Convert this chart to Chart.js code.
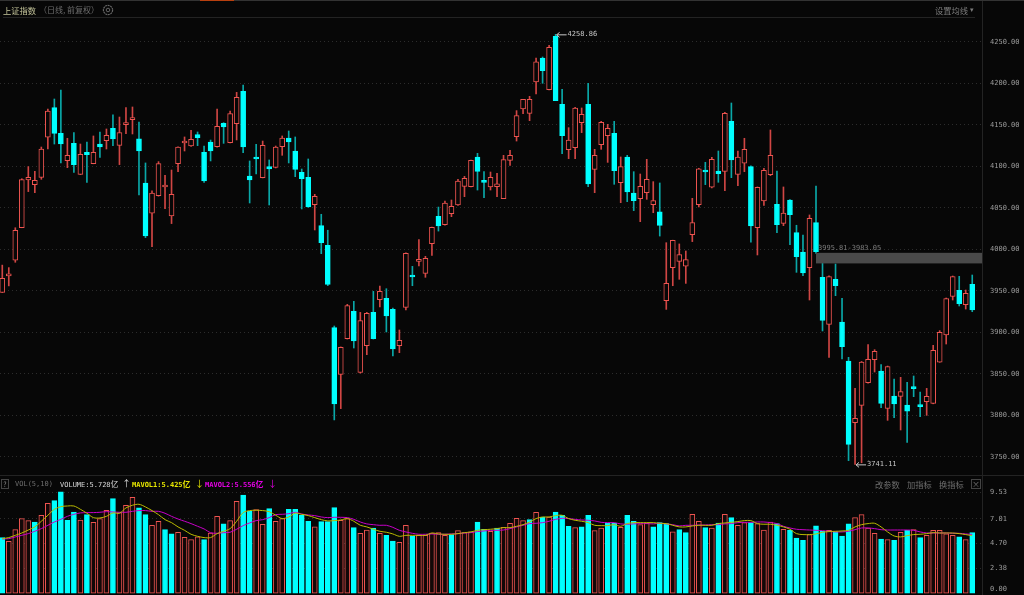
<!DOCTYPE html>
<html>
<head>
<meta charset="utf-8">
<title>上证指数</title>
<script src="https://cdn.jsdelivr.net/npm/chart.js@4"></script>
<style>
    html, body { margin: 0; padding: 0; background: #070707; overflow: hidden; }
    #page { position: relative; width: 1024px; height: 595px; overflow: hidden; background: #070707; }
    canvas { position: absolute; left: 0; }
    #priceChart { top: 0; }
    #volumeChart { top: 476px; }
    .txt { position: absolute; white-space: nowrap; line-height: 12px; font-family: "Noto Sans CJK SC", sans-serif; }
    .mono { font-family: "DejaVu Sans Mono", monospace; font-size: 7px; }
    .rule { position: absolute; background: #232323; }
</style>
</head>
<body>
<div id="page">
    <canvas id="priceChart" width="1024" height="475"></canvas>
    <canvas id="volumeChart" width="1024" height="119"></canvas>

    <div class="rule" style="left:0;top:0;width:1024px;height:1px;background:#333"></div>
    <div class="rule" style="left:200px;top:0;width:34px;height:1px;background:#b8400f"></div>
    <div class="rule" style="left:3px;top:17px;width:972px;height:1px"></div>
    <div class="rule" style="left:0;top:475px;width:1024px;height:1px"></div>

    <div class="txt" style="left:3px;top:4px;font-size:8.25px;color:#c4c49a">上证指数</div>
    <div class="txt" style="left:39px;top:4px;font-size:8px;color:#6e6e6e">（日线, 前复权）</div>
    <svg style="position:absolute;left:102px;top:4px" width="12" height="12" viewBox="0 0 12 12">
        <circle cx="6" cy="6" r="4.6" fill="none" stroke="#666" stroke-width="1.2" stroke-dasharray="2 0.6"></circle>
        <circle cx="6" cy="6" r="1.8" fill="none" stroke="#666"></circle>
    </svg>
    <div class="txt" style="left:935px;top:4px;font-size:8.25px;color:#7c7c7c">设置均线</div>
    <div class="txt" style="left:970px;top:3px;font-size:7px;color:#7c7c7c">▾</div>

    <div class="txt" style="left:1px;top:479px;width:8px;height:10px;line-height:8px;border:1px solid #444;color:#888;font-size:7px;text-align:center;box-sizing:border-box">?</div>
    <div class="txt mono" style="left:15px;top:478px;color:#6e6e6e">VOL(5,10)</div>
    <div class="txt mono" style="left:60px;top:478px;color:#d8d8d8">VOLUME:5.728<span style="font-family:'Noto Sans CJK SC';font-size:8px">亿</span></div>
    <div class="txt" style="left:122px;top:478px;font-size:9px;color:#d8d8d8">↑</div>
    <div class="txt mono" style="left:132px;top:478px;color:#e6e600;font-weight:bold">MAVOL1:5.425<span style="font-family:'Noto Sans CJK SC';font-size:8px">亿</span></div>
    <div class="txt" style="left:195px;top:478px;font-size:9px;color:#e6e600">↓</div>
    <div class="txt mono" style="left:205px;top:478px;color:#e600e6;font-weight:bold">MAVOL2:5.556<span style="font-family:'Noto Sans CJK SC';font-size:8px">亿</span></div>
    <div class="txt" style="left:268px;top:478px;font-size:9px;color:#e600e6">↓</div>

    <div class="txt" style="left:875px;top:478px;font-size:8.25px;color:#6e6e6e">改参数</div>
    <div class="txt" style="left:907px;top:478px;font-size:8.25px;color:#6e6e6e">加指标</div>
    <div class="txt" style="left:939px;top:478px;font-size:8.25px;color:#6e6e6e">换指标</div>
    <div class="txt" style="left:971px;top:479px;width:10px;height:10px;line-height:8px;border:1px solid #444;color:#777;font-size:8px;text-align:center;box-sizing:border-box">×</div>
</div>

<script>
// Daily candles, oldest first
const opens = [
    3948,3968,3987,4026,4083.5,4077.9,4086.7,4134.9,4170.6,4139.7,
    4106.8,4127.6,4090.3,4116.8,4103.2,4126.8,4130.9,4145.7,4125.2,4150.1,
    4156.1,4132.9,4079.9,4043.4,4064.6,4075,4040.2,4103.2,4128,4124.4,
    4138.1,4116.8,4129.2,4123.6,4151.7,4128.4,4151.3,4190.2,4088.3,4110.8,
    4086.3,4099.5,4098.7,4123.6,4134.1,4118.4,4092.7,4086.7,4053.8,4028.5,
    4004.8,3905.7,3849.5,3892.4,3925.3,3851.9,3884,3924.1,3939.4,3941,
    3927.8,3884,3930.2,3967.9,3985.5,3971.1,4006.8,4039.7,4029.7,4042.9,
    4053.4,4075.9,4075.4,4111.2,4081.9,4075,4075.4,4061,4107.2,4135.6,
    4169,4163.7,4201.5,4230.4,4192.2,4256.4,4174.6,4120,4122.4,4152.5,
    4174.6,4096.3,4126,4136.8,4139.7,4080.3,4111.2,4067.8,4061,4068.2,
    4053.8,4045.3,3938.2,3978,3985.6,3979.6,4017.7,4053.8,4094.7,4074.7,
    4094.3,4093.9,4154.1,4090.3,4103.6,4099.6,4026.1,4058.2,4089.9,4054.2,
    4031.3,4059.4,4020.1,3996.8,3978,4032.1,3966.3,3909.7,3963.9,3912.5,
    3865.5,3791.3,3812.2,3839.5,3867.1,3853.5,3808.6,3823.4,3823,3812.6,
    3833.8,3812.2,3816.6,3814.6,3864,3896.9,3943.4,3950.6,3933.4,3957.8
];
const closes = [
    3965,3969,4023,4084,4086.7,4083.1,4120.8,4166.6,4139.7,4126.8,
    4113.2,4102,4114.4,4114,4116.8,4123.2,4137.3,4132.9,4140.5,4151.7,
    4158.5,4118.4,4016.1,4067.8,4103.2,4075.9,4066.2,4123.2,4129,4132.5,
    4134.5,4082.3,4118.4,4148.1,4147.3,4163.4,4183,4123.2,4083.5,4108.8,
    4125.2,4096.7,4123.2,4134.1,4129.2,4096.3,4085.1,4051,4063.8,4008,
    3957.9,3813.8,3882,3932.2,3889.6,3914.1,3922.9,3892.4,3949.4,3919.7,
    3880,3890.4,3995.2,3966.7,3986.7,3989.2,4026.5,4028.1,4055.8,4051.8,
    4082.3,4085.5,4107.2,4093.9,4080.7,4086.7,4079,4108,4113.2,4160.9,
    4180.6,4180.6,4225.9,4215.1,4243.2,4179,4136.8,4131.6,4170.2,4162.5,
    4078.7,4113.2,4152.9,4145.7,4094.7,4099.5,4069,4058.6,4075.9,4084.3,
    4058.6,4028.9,3959,4010.9,3993.6,3987.6,4032.1,4096.8,4093.1,4108.4,
    4091.1,4163.8,4107.6,4111.2,4120.4,4028.1,4074.7,4095.1,4113.2,4029.7,
    4043.8,4041.8,3991.2,3971.5,4037.4,3997.2,3914.5,3967.1,3956.2,3882.8,
    3765.2,3796.5,3864.3,3867.5,3877.2,3814.6,3858.7,3813.8,3828.6,3805.3,
    3832.2,3810.6,3823,3878.4,3900.1,3940.6,3967.1,3934.6,3947,3927
];
const highs = [
    3981,3978,4026,4085,4099.6,4093.9,4123.2,4169,4181,4191.8,
    4133.7,4140.5,4126.8,4129.2,4136.5,4141.3,4144.9,4161.8,4159.3,4170.6,
    4171.4,4153.3,4104,4070.3,4105.6,4089.1,4095.5,4123.5,4135.3,4143.3,
    4141.3,4124.4,4131.6,4169,4152.5,4166.6,4189,4197.9,4106.4,4126.4,
    4130.4,4107.6,4124.4,4136.5,4142.5,4135.3,4096.7,4108.8,4066.2,4042.2,
    4023,3907.7,3882.5,3933.8,3937.4,3924.1,3924.1,3949.4,3955.8,3952.6,
    3929.4,3902.9,3995.8,3979.5,4011.6,3991.6,4026.8,4050.9,4058.2,4059.4,
    4084.3,4087.9,4107.5,4115.6,4093.5,4093.1,4091.5,4113.2,4119.2,4167,
    4180.6,4184.2,4230.4,4231.6,4245.6,4258.86,4192.6,4146.5,4171,4170.2,
    4199.9,4120.4,4154.1,4150.5,4154.1,4111.2,4113.2,4093.5,4090.7,4108.4,
    4081.5,4079.9,4008,4011,4006.5,3998,4061.4,4097.6,4104.8,4110.8,
    4118.4,4165,4176.2,4118.4,4133.7,4100.4,4075.1,4097.6,4143.7,4094.3,
    4075.1,4060,4029,4017.3,4041.4,4076.3,3984,3968,3982.4,3941,
    3870,3832.6,3865,3885.2,3879.2,3861.1,3859.5,3843.9,3845.9,3839.9,
    3847.5,3828.2,3832.6,3884.4,3902.1,3941.4,3967.9,3967.5,3951,3969.1
];
const lows = [
    3948,3956,3984.4,4026,4069.5,4068.2,4084.3,4120.8,4126.8,4104,
    4098.3,4092.7,4090,4080.7,4103,4110.8,4120.8,4124.8,4102,4139.3,
    4138.9,4065.4,4014.1,4003.2,4064,4049,4031,4093.5,4118.4,4124,
    4124.8,4080.7,4106.4,4123,4127.6,4128,4131.7,4116.4,4055.8,4090.7,
    4086,4053.4,4098,4113.2,4104,4087.5,4048.6,4050.6,4023.3,3994.8,
    3956.3,3794.6,3808.2,3892,3881.2,3851,3873.2,3892,3930.6,3900.5,
    3871.6,3875.6,3927,3956.2,3979.9,3966.3,3992.8,4022,4029,4039.3,
    4053,4063.4,4075,4071.4,4062.2,4071.4,4063.4,4061,4101,4130.4,
    4163.3,4154.9,4187,4199.9,4192,4179,4115.2,4109.2,4109.2,4140.5,
    4075.4,4068.2,4120.4,4104.7,4078.3,4056.2,4057.4,4046.6,4033.3,4060.2,
    4044.1,4016,3927.7,3956.2,3963.9,3959,4009.3,4051,4077.9,4074,
    4080.7,4070.7,4086.3,4076.7,4093.5,4008.5,3993.2,4053,4088.7,4020.1,
    4028.5,4005.7,3972.3,3968.3,3939,3995,3901.7,3870,3944.2,3868,
    3745.6,3741.11,3743,3839,3852.3,3809.4,3794.1,3797.3,3782.5,3767.6,
    3822.6,3798.5,3800.1,3814,3864,3886,3939,3931.8,3928.1,3924.9
];

// Volume in 亿, same order as the candles
const volumes = [
    5.26,4.91,6.0,7.04,6.85,6.72,7.35,8.47,8.72,9.54,
    6.88,7.66,6.91,7.41,6.69,7.04,7.82,8.91,7.6,8.29,
    9.04,8.04,7.41,6.41,6.79,6.0,5.6,5.76,5.29,5.07,
    5.32,5.07,5.69,7.25,6.54,6.85,8.66,9.25,7.72,7.88,
    6.51,7.97,6.79,7.04,7.91,7.91,7.35,6.79,6.26,6.76,
    6.76,8.07,6.88,7.04,6.19,5.66,5.97,6.16,5.66,5.47,
    4.94,4.82,6.41,5.41,5.47,5.47,5.69,5.72,5.47,5.54,
    5.91,5.72,5.79,6.72,6.04,5.85,6.16,6.22,6.6,7.07,
    6.85,6.94,7.63,7.19,7.19,7.66,7.35,6.32,6.19,6.26,
    7.35,5.91,6.16,6.6,6.63,6.22,7.35,6.79,6.47,6.6,
    6.26,6.66,6.57,5.79,6.0,5.72,7.44,6.79,6.19,6.16,
    6.63,7.44,7.13,6.41,6.66,6.66,6.57,5.97,6.72,6.57,
    6.04,5.94,5.22,5.0,5.54,6.35,5.88,5.94,5.79,5.41,
    6.54,7.13,7.41,6.16,5.66,5.13,5.07,5.0,5.76,5.94,
    6.0,5.26,5.47,5.94,5.94,5.6,5.47,5.32,5.07,5.73
];
// Bars that are cyan in the volume pane (does not always follow the candle colour)
const cyanVolumeBars = [
    0,5,8,9,10,11,13,17,21,22,25,26,31,34,37,38,41,44,45,46,47,49,50,51,54,57,59,60,63,69,
    73,74,76,81,83,85,86,87,89,90,93,94,96,97,100,101,102,104,105,108,110,112,115,119,121,
    122,123,125,126,128,129,130,135,137,139,141,147,149
];
const mavol1 = [
    5.16,5.26,5.47,5.69,5.97,6.26,6.79,7.35,7.91,8.16,
    8.22,8.22,7.91,7.54,7.13,7.1,7.25,7.57,7.54,8.04,
    8.29,8.38,8.13,7.79,7.41,6.94,6.66,6.26,5.94,5.57,
    5.38,5.26,5.26,5.63,5.85,6.1,6.79,7.6,7.79,7.82,
    7.79,7.69,7.35,7.04,7.19,7.54,7.44,7.32,7.13,6.94,
    6.82,6.85,6.91,7.04,6.79,6.41,6.26,6.04,5.85,5.76,
    5.6,5.38,5.47,5.47,5.47,5.47,5.69,5.6,5.57,5.57,
    5.63,5.72,5.79,5.94,6.0,6.04,6.1,6.19,6.19,6.32,
    6.47,6.72,7.04,7.19,7.19,7.32,7.35,7.04,6.88,6.79,
    6.66,6.41,6.38,6.38,6.47,6.32,6.57,6.66,6.66,6.66,
    6.66,6.6,6.57,6.41,6.26,6.26,6.35,6.41,6.41,6.41,
    6.57,6.63,6.69,6.76,6.85,6.85,6.57,6.51,6.51,6.41,
    6.26,6.04,5.63,5.54,5.54,5.6,5.76,5.82,5.85,5.88,
    5.94,6.26,6.47,6.57,6.6,6.26,5.79,5.41,5.32,5.44,
    5.54,5.57,5.63,5.72,5.69,5.69,5.69,5.63,5.54,5.43
];
const mavol2 = [
    5.13,5.16,5.32,5.47,5.63,5.85,6.1,6.41,6.72,6.97,
    7.25,7.44,7.57,7.6,7.6,7.63,7.69,7.66,7.63,7.63,
    7.72,7.79,7.79,7.72,7.72,7.54,7.25,7.0,6.79,6.57,
    6.32,6.07,5.72,5.66,5.72,5.76,6.04,6.38,6.63,6.85,
    6.94,7.13,7.41,7.44,7.5,7.63,7.47,7.38,7.32,7.19,
    7.13,7.16,7.16,7.13,6.97,6.72,6.54,6.47,6.41,6.41,
    6.22,5.94,5.79,5.66,5.57,5.57,5.6,5.57,5.57,5.6,
    5.63,5.69,5.72,5.82,5.88,5.94,5.94,5.97,6.1,6.26,
    6.41,6.57,6.6,6.66,6.79,6.97,7.07,7.04,6.97,6.91,
    6.88,6.82,6.69,6.66,6.66,6.54,6.51,6.54,6.57,6.57,
    6.54,6.6,6.54,6.47,6.35,6.41,6.41,6.44,6.44,6.47,
    6.47,6.54,6.57,6.66,6.69,6.69,6.72,6.72,6.66,6.57,
    6.32,6.16,6.04,6.0,5.97,5.94,5.91,5.85,5.79,5.79,
    5.85,6.0,6.16,6.16,6.1,6.0,5.97,5.97,5.97,5.97,
    5.94,5.79,5.69,5.69,5.69,5.69,5.66,5.66,5.6,5.56
];

const priceTicks = [3750, 3800, 3850, 3900, 3950, 4000, 4050, 4100, 4150, 4200, 4250];
const volumeTicks = [0, 2.38, 4.70, 7.01, 9.53];

// Gap band and the two marked extremes
const gapHigh = 3995.81;
const gapLow = 3983.05;
const gapStart = 125;
const peakIndex = 85;
const peakValue = 4258.86;
const troughIndex = 131;
const troughValue = 3741.11;

const RED = '#ee5450';
const RED_WICK = '#d04644';
const CYAN = '#00ffff';
const CYAN_WICK = '#0aa8a8';
const BG = '#070707';
const GRID = '#2c2c2c';
const AXIS_FONT = { family: 'DejaVu Sans Mono', size: 7 };

const isUp = opens.map((open, i) => closes[i] >= open);

// Shared x axis: bar index, no visible ticks, lines both panes up
const xAxis = { type: 'linear', display: false, offset: false, min: -0.35, max: 150.5 };

function yAxis(min, max, tickValues, formatLabel) {
    return {
        position: 'right',
        min: min,
        max: max,
        afterBuildTicks: axis => { axis.ticks = tickValues.map(v => ({ value: v })); },
        afterFit: axis => {
            axis.width = 42;
            // the scale reserves room for its end labels; the panes run edge to edge
            axis._margins.top = 0;
            axis._margins.bottom = 0;
            axis.paddingTop = 0;
            axis.paddingBottom = 0;
            axis.height = axis._length = axis.chart.height;
        },
        grid: {
            color: ctx => (ctx.tick && ctx.tick.value === 0 ? 'transparent' : GRID),
            drawTicks: false
        },
        border: { display: true, color: '#232323', dash: [1, 3] },
        ticks: {
            color: '#9c9c9c',
            font: AXIS_FONT,
            padding: 8,
            callback: formatLabel
        }
    };
}

// Gap band plus the high / low call-outs
const priceNotes = {
    id: 'priceNotes',
    afterDatasetsDraw(chart) {
        const ctx = chart.ctx;
        const x = chart.scales.x;
        const y = chart.scales.y;

        ctx.save();
        const bandLeft = x.getPixelForValue(gapStart);
        ctx.fillStyle = '#4a4a4a';
        ctx.fillRect(bandLeft, y.getPixelForValue(gapHigh), chart.chartArea.right - bandLeft,
            y.getPixelForValue(gapLow) - y.getPixelForValue(gapHigh));

        ctx.font = '7px "DejaVu Sans Mono"';
        ctx.textBaseline = 'middle';
        ctx.fillStyle = '#7c7c7c';
        ctx.fillText(gapHigh.toFixed(2) + '-' + gapLow.toFixed(2), bandLeft + 2, y.getPixelForValue(gapHigh) - 5);

        [[peakIndex, peakValue], [troughIndex, troughValue]].forEach(([index, value]) => {
            const px = x.getPixelForValue(index) + 1;
            const py = y.getPixelForValue(value);
            ctx.strokeStyle = '#c8c8c8';
            ctx.lineWidth = 1;
            ctx.beginPath();
            ctx.moveTo(px + 10, py + 0.5);
            ctx.lineTo(px, py + 0.5);
            ctx.moveTo(px + 3, py - 2);
            ctx.lineTo(px, py + 0.5);
            ctx.lineTo(px + 3, py + 3);
            ctx.stroke();
            ctx.fillStyle = '#c8c8c8';
            ctx.fillText(value.toFixed(2), px + 11, py);
        });
        ctx.restore();
    }
};

// Price pane: wick and body are two overlaid floating bar sets
new Chart(document.getElementById('priceChart'), {
    type: 'bar',
    plugins: [priceNotes],
    data: {
        datasets: [{
            grouped: false,
            order: 2,
            barThickness: 1,
            data: highs.map((high, i) => ({ x: i, y: [lows[i], high] })),
            backgroundColor: isUp.map(up => (up ? RED_WICK : CYAN_WICK)),
            borderWidth: 0
        }, {
            grouped: false,
            order: 1,
            barThickness: 5,
            minBarLength: 2,
            data: opens.map((open, i) => ({ x: i, y: [Math.min(open, closes[i]), Math.max(open, closes[i])] })),
            backgroundColor: isUp.map(up => (up ? BG : CYAN)),
            borderColor: isUp.map(up => (up ? RED : CYAN)),
            borderWidth: 1,
            borderSkipped: false
        }]
    },
    options: {
        responsive: false,
        animation: false,
        layout: { padding: 0, autoPadding: false },
        plugins: { legend: { display: false }, title: { display: false }, tooltip: { enabled: false } },
        scales: {
            x: xAxis,
            y: yAxis(3728.3, 4300.2, priceTicks, value => value.toFixed(2))
        }
    }
});

// Volume pane: bars with the two moving averages on top
new Chart(document.getElementById('volumeChart'), {
    type: 'bar',
    data: {
        datasets: [{
            order: 3,
            grouped: false,
            barThickness: 5,
            data: volumes.map((volume, i) => ({ x: i, y: volume })),
            backgroundColor: volumes.map((v, i) => (cyanVolumeBars.includes(i) ? CYAN : '#120808')),
            borderColor: volumes.map((v, i) => (cyanVolumeBars.includes(i) ? CYAN : RED)),
            borderWidth: 1,
            borderSkipped: false
        }, {
            type: 'line',
            order: 2,
            data: mavol2.map((value, i) => ({ x: i, y: value })),
            borderColor: '#c800c8',
            borderWidth: 1,
            pointRadius: 0,
            tension: 0.3
        }, {
            type: 'line',
            order: 1,
            data: mavol1.map((value, i) => ({ x: i, y: value })),
            borderColor: '#bcbc00',
            borderWidth: 1,
            pointRadius: 0,
            tension: 0.3
        }]
    },
    options: {
        responsive: false,
        animation: false,
        layout: { padding: 0, autoPadding: false },
        plugins: { legend: { display: false }, title: { display: false }, tooltip: { enabled: false } },
        scales: {
            x: xAxis,
            // second empty line lifts the 0.00 label off the window edge
            y: yAxis(-0.12, 11.03, volumeTicks, value => (value === 0 ? ['0.00', ''] : value.toFixed(2)))
        }
    }
});
</script>
</body>
</html>
